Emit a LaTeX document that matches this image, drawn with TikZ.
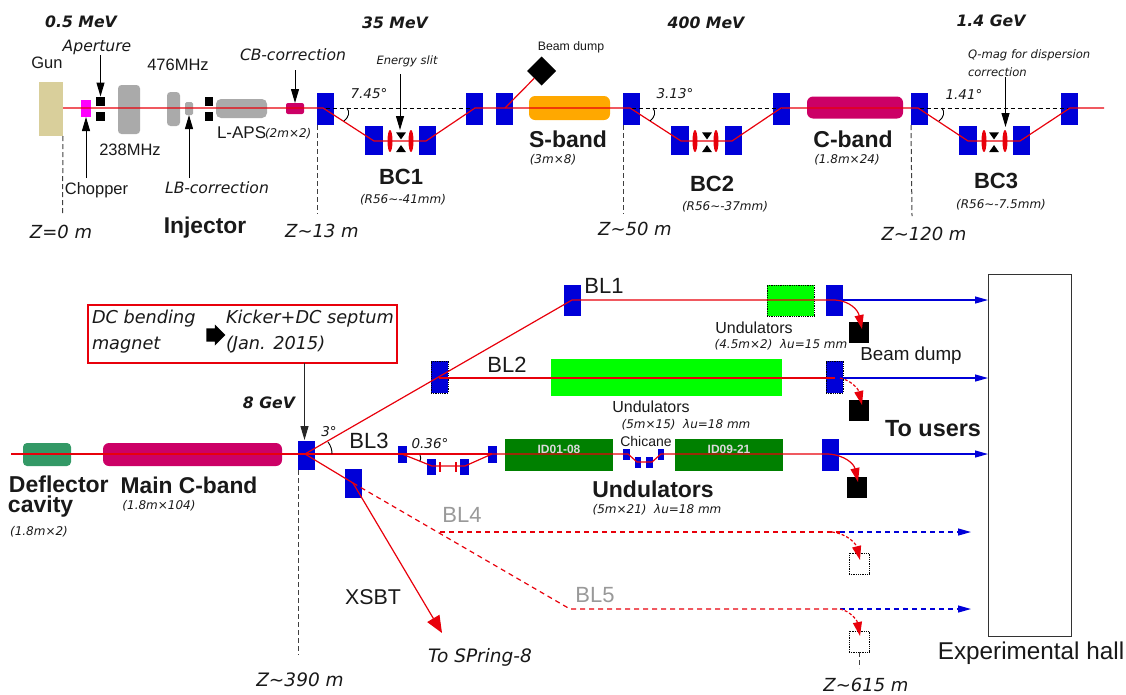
\documentclass[tikz,border=0pt]{standalone}
\usepackage{fontspec}
\setmainfont{Liberation Sans}
\newfontfamily\vd{DejaVu Sans}
\usetikzlibrary{arrows.meta,shapes.geometric,shapes.arrows,calc}
\definecolor{beam}{HTML}{E8000B}
\definecolor{mag}{HTML}{0000D8}
\definecolor{cband}{HTML}{CC0066}
\definecolor{rfgray}{HTML}{AAAAAA}
\definecolor{gunc}{HTML}{D9CF9B}
\definecolor{defl}{HTML}{339966}
\definecolor{undk}{HTML}{008000}
\definecolor{undl}{HTML}{00FF00}
\definecolor{labgray}{HTML}{999999}
\definecolor{chopc}{HTML}{FF00FF}
\definecolor{sbandc}{HTML}{FFA800}
\newcommand\fz[1]{\fontsize{#1pt}{#1pt}\selectfont}
\newcommand\tld{\textasciitilde}
\tikzset{
 x=1pt,y=-1pt,
 box/.style={inner sep=0pt,outer sep=0pt,draw=none,rectangle},
 magnet/.style={box,fill=mag},
 dotmag/.style={box,fill=mag,draw=black,densely dotted,line width=.8pt},
 blk/.style={box,fill=black},
 dotdump/.style={box,fill=white,draw=black,densely dotted,line width=.8pt},
 rf/.style={box,fill=rfgray,rounded corners=3.5pt},
 kly/.style={box,fill=cband,rounded corners=6pt},
 lens/.style={ellipse,inner sep=0pt,outer sep=0pt,fill=beam},
 tridn/.style={isosceles triangle,isosceles triangle apex angle=70,inner sep=0pt,outer sep=0pt,fill=black,shape border rotate=-90,minimum height=7pt},
 triup/.style={isosceles triangle,isosceles triangle apex angle=70,inner sep=0pt,outer sep=0pt,fill=black,shape border rotate=90,minimum height=7pt},
 rl/.style={draw=beam,line width=1.2pt},
 rld/.style={draw=beam,line width=1.2pt,dash pattern=on 5pt off 4pt},
 bl/.style={draw=mag,line width=1.2pt,-{Triangle[length=13pt,width=7pt]}},
 bld/.style={draw=mag,line width=1.2pt,dash pattern=on 5pt off 4pt,-{Triangle[length=13pt,width=7pt,sep=0pt]}},
 zline/.style={draw=black!75,line width=1pt,dash pattern=on 5pt off 3pt},
 refl/.style={draw=black,line width=.9pt,dash pattern=on 4pt off 3pt},
 ar/.style={draw=black,line width=1pt,-{Triangle[length=14pt,width=8pt]}},
 arc line/.style={draw=black,line width=.9pt},
 dumpar/.style={rl,-{Triangle[length=14pt,width=9pt]}},
 dumpard/.style={draw=beam,line width=1.2pt,dash pattern=on 3pt off 2pt,-{Triangle[length=14pt,width=9pt,sep=0pt]}},
 txt/.style={inner sep=0pt,outer sep=0pt,text=black!90},
 up/.style={txt,font=\fz{16.5}},
 upb/.style={txt,font=\fz{22}},
 bld txt/.style={txt,font=\bfseries\fz{23}},
 zl/.style={txt,font=\vd\itshape\fz{18}},
 en/.style={txt,font=\vd\bfseries\itshape\fz{15.7}},
 itl/.style={txt,font=\vd\itshape\fz{15.6}},
 its/.style={txt,font=\vd\itshape\fz{12}},
 ang/.style={txt,font=\vd\itshape\fz{13.5}},
 note txt/.style={txt,anchor=west,font=\vd\itshape\fz{17.7}},
}
\begin{document}
\begin{tikzpicture}
\useasboundingbox (0,0) rectangle (1126,694);
% --- top line shapes
\node[box,fill=gunc,minimum width=24pt,minimum height=54pt] (gun) at (51,109) {};
\node[box,fill=chopc,minimum width=10pt,minimum height=17pt] (chop) at (86,108.5) {};
\node[blk,minimum width=9pt,minimum height=9pt] (apA) at (100.5,101) {};
\node[blk,minimum width=9pt,minimum height=9pt] (apB) at (100.5,116.5) {};
\node[rf,minimum width=22pt,minimum height=49pt] (r238) at (129,109.5) {};
\node[rf,minimum width=13pt,minimum height=34pt] (r476) at (173.5,109) {};
\node[rf,minimum width=8pt,minimum height=13pt,rounded corners=1.5pt] (lb) at (189,108.5) {};
\node[blk,minimum width=8pt,minimum height=9pt] (sqA) at (209,101) {};
\node[blk,minimum width=8pt,minimum height=9pt] (sqB) at (209,116.5) {};
\node[rf,minimum width=51pt,minimum height=19pt,rounded corners=5pt] (laps) at (241.5,108.5) {};
\node[kly,minimum width=18pt,minimum height=11pt,rounded corners=2pt] (cb) at (295,108.5) {};
\node[magnet,minimum width=17pt,minimum height=32pt] (m1) at (325.5,109) {};
\node[magnet,minimum width=18pt,minimum height=29pt] (b1a) at (374,140.5) {};
\node[magnet,minimum width=17pt,minimum height=29pt] (b1b) at (427.5,140.5) {};
\node[magnet,minimum width=17pt,minimum height=32pt] (m2) at (474.5,109) {};
\node[magnet,minimum width=17pt,minimum height=32pt] (m3) at (504.5,109) {};
\node[diamond,fill=black,inner sep=0pt,outer sep=0pt,minimum width=29pt,minimum height=29pt] (dp) at (541.5,71) {};
\node[box,fill=sbandc,rounded corners=6pt,minimum width=81pt,minimum height=24pt] (sb) at (569.5,108) {};
\node[magnet,minimum width=17pt,minimum height=32pt] (m4) at (631.5,109) {};
\node[magnet,minimum width=18pt,minimum height=29pt] (b2a) at (680,140.5) {};
\node[magnet,minimum width=17pt,minimum height=29pt] (b2b) at (733.5,140.5) {};
\node[magnet,minimum width=17pt,minimum height=32pt] (m5) at (781.5,109) {};
\node[kly,minimum width=96pt,minimum height=22pt] (cband) at (855,107.5) {};
\node[magnet,minimum width=17pt,minimum height=32pt] (m6) at (919.5,109) {};
\node[magnet,minimum width=18pt,minimum height=29pt] (b3a) at (968,140.5) {};
\node[magnet,minimum width=17pt,minimum height=29pt] (b3b) at (1021.5,140.5) {};
\node[magnet,minimum width=17pt,minimum height=32pt] (m7) at (1069.5,109) {};
% reference dashes and Z marks
\coordinate (end1) at (1104,108);
\coordinate (z0) at (62.5,214);
\coordinate (z13) at (317,214);
\coordinate (z50) at (623,214);
\coordinate (z120) at (912,216);
\draw[zline] (gun.south east) -- (z0);
\draw[zline] (m1.south west) -- (z13);
\draw[zline] (m4.south west) -- (z50);
\draw[zline] (m6.south west) -- (z120);
\draw[refl] (m1.center |- end1) -- (m2.center |- end1);
\draw[refl] (m4.center |- end1) -- (m5.center |- end1);
\draw[refl] (m6.center |- end1) -- (m7.center |- end1);
% top beam
\coordinate (g) at (gun.east |- end1);
\draw[rl] (g) -- (323,108) -- (374,141) -- (426,141) -- (475,108) -- (630,108) -- (681,141) -- (732,141) -- (781,108) -- (918,108) -- (968,141) -- (1020,141) -- (1070,108) -- (end1);
\draw[rl] (505,108) -- (dp.south west);
% BC inner
\foreach \n/\x in {a/390,b/411}{\node[lens,minimum width=5pt,minimum height=22pt] (ln1\n) at (\x,141) {};}
\foreach \n/\x in {a/695,b/716}{\node[lens,minimum width=5pt,minimum height=22pt] (ln2\n) at (\x,141) {};}
\foreach \n/\x in {a/984,b/1005}{\node[lens,minimum width=5pt,minimum height=22pt] (ln3\n) at (\x,141) {};}
\foreach \i/\x in {1/401,2/707,3/994}{
 \node[tridn] (sd\i) at (\x,135) {};
 \node[triup] (su\i) at (\x,149.5) {};
}
% angle arcs
\coordinate (a1a) at (347,108); \coordinate (a1b) at (344,121);
\draw[arc line] (a1a) .. controls (350,112) and (349,117) .. (a1b);
\coordinate (a2a) at (653,108); \coordinate (a2b) at (650,121);
\draw[arc line] (a2a) .. controls (656,112) and (655,117) .. (a2b);
\coordinate (a3a) at (942,108); \coordinate (a3b) at (939,121);
\draw[arc line] (a3a) .. controls (945,112) and (944,117) .. (a3b);
% pointer arrows
\coordinate (pA) at (100.5,55); \draw[ar] (pA) -- (apA.north);
\coordinate (pC) at (86,178); \draw[ar] (pC) -- (chop.south);
\coordinate (pL) at (189,178); \draw[ar] (pL) -- (lb.south);
\coordinate (pB) at (295,70); \draw[ar] (pB) -- (cb.north);
\coordinate (pE) at (400,74); \coordinate (pE2) at (400,130); \draw[ar] (pE) -- (pE2);
\coordinate (pQ) at (1005.5,77); \coordinate (pQ2) at (1005.5,127); \draw[ar] (pQ) -- (pQ2);
% --- lower shapes
\node[box,fill=defl,rounded corners=4pt,minimum width=48pt,minimum height=23pt] (dc) at (47,454.5) {};
\node[kly,minimum width=179pt,minimum height=23pt] (mc) at (192.5,454.5) {};
\node[magnet,minimum width=17pt,minimum height=29pt] (mm) at (306.5,455.5) {};
\node[magnet,minimum width=17pt,minimum height=29pt] (mx) at (353.5,483.5) {};
\node[magnet,minimum width=17pt,minimum height=31pt] (ml1) at (572.5,300.5) {};
\node[box,fill=undl,draw=black,densely dotted,line width=.8pt,minimum width=47pt,minimum height=31pt] (u1) at (790.5,300.5) {};
\node[magnet,minimum width=17pt,minimum height=31pt] (ml1b) at (834.5,300.5) {};
\node[dotmag,minimum width=17pt,minimum height=32pt] (ml2) at (439.5,377) {};
\node[box,fill=undl,minimum width=231pt,minimum height=37pt] (u2) at (666.5,377.5) {};
\node[dotmag,minimum width=17pt,minimum height=32pt] (ml2b) at (834.5,377) {};
\node[magnet,minimum width=9pt,minimum height=17pt] (c1) at (402.5,454.5) {};
\node[magnet,minimum width=9pt,minimum height=16pt] (c2) at (431.5,467) {};
\node[magnet,minimum width=9pt,minimum height=16pt] (c3) at (464.5,467) {};
\node[magnet,minimum width=9pt,minimum height=17pt] (c4) at (492.5,454.5) {};
\node[box,fill=undk,minimum width=108pt,minimum height=32pt] (id1) at (559,455) {};
\node[box,fill=undk,minimum width=108pt,minimum height=32pt] (id2) at (729,455) {};
\node[magnet,minimum width=7pt,minimum height=11pt] (h1) at (626.5,454.5) {};
\node[magnet,minimum width=6pt,minimum height=11pt] (h2) at (638,462.5) {};
\node[magnet,minimum width=7pt,minimum height=11pt] (h3) at (649.5,462.5) {};
\node[magnet,minimum width=6pt,minimum height=11pt] (h4) at (661,454.5) {};
\node[magnet,minimum width=17pt,minimum height=32pt] (ml3b) at (830.5,455) {};
\node[blk,minimum width=20pt,minimum height=21pt] (d1) at (859,332.5) {};
\node[blk,minimum width=20pt,minimum height=21pt] (d2) at (859,410) {};
\node[blk,minimum width=20pt,minimum height=21pt] (d3) at (857,487.5) {};
\node[dotdump,minimum width=20pt,minimum height=21pt] (d4) at (859,563.5) {};
\node[dotdump,minimum width=20pt,minimum height=21pt] (d5) at (859,641.5) {};
\node[box,fill=white,draw=black!80,line width=1pt,minimum width=83pt,minimum height=362pt] (hall) at (1029.5,455) {};
\node[box,draw=beam,line width=1.2pt,fill=white,minimum width=309pt,minimum height=58pt] (note) at (242.5,334) {};
\node[single arrow,fill=black,inner xsep=0pt,inner ysep=5pt,outer sep=0pt,minimum width=21pt,minimum height=19pt,single arrow head extend=3pt,single arrow tip angle=90] (na) at (212.5,335) {};
% lower lines
\coordinate (lbeam) at (11,454);
\coordinate (hbl1) at (988,300);
\coordinate (hbl2) at (988,378);
\coordinate (hbl3) at (988,454);
\coordinate (t4) at (971,532);
\coordinate (t5) at (971,609);
\coordinate (z390) at (298,655);
\coordinate (z615) at (859,668);
\coordinate (xt) at (442,633);
\coordinate (s4) at (440,532);
\coordinate (s5) at (570,609);
\coordinate (tgt8) at (304.5,440);
\draw[zline] (mm.south west) -- (z390);
\draw[zline] (d5.south) -- (z615);
\draw[refl,dash pattern=on 2pt off 1.5pt on .8pt off 1.5pt] (c1.center) -- (c4.center);
\draw[ar,draw=black!85] (note.south -| tgt8) -- (tgt8);
% blue out-lines
\draw[bl] (ml1b.east |- hbl1) -- (hbl1);
\draw[bl] (ml2b.east |- hbl2) -- (hbl2);
\draw[bl] (ml3b.east |- hbl3) -- (hbl3);
\draw[bld] (840,532) -- (t4);
\draw[bld] (840,609) -- (t5);
% red lines
\coordinate (o) at (305,454);
\coordinate (o1) at (572,300);
\coordinate (o2) at (353,483);
\draw[rl] (lbeam) -- (402,454);
\draw[rl] (o) -- (492,454);
\draw[rl] (402,454) -- (432,466) -- (465,466) -- (492,454) -- (628,454) -- (637,462) -- (652,462) -- (661,454) -- (828,454);
\draw[rl] (o) -- (o1) -- (835,300);
\draw[rl] (439,378) -- (835,378);
\draw[rl] (o) -- (o2);
\draw[rld] (o2) -- (s5) -- (840,609);
\draw[rld] (s4) -- (840,532);
\draw[draw=beam,line width=1.2pt,-{Triangle[length=17pt,width=14pt]}] (o2) -- (xt);
\draw[dumpar] (835,300) .. controls (850,301) and (858,310) .. (862,329);
\draw[dumpar] (828,454) .. controls (845,455) and (854,464) .. (858,482);
\draw[dumpard] (840,378) .. controls (850,380) and (858,388) .. (862,405);
\draw[dumpard] (832,532) .. controls (848,534) and (856,544) .. (860,560);
\draw[dumpard] (840,609) .. controls (850,611) and (857,620) .. (860,636);
\draw[rl] (c2.center) ++(8.5,-5) -- ++(0,10);
\draw[rl] (c3.center) ++(-8.5,-5) -- ++(0,10);
% lower arcs
\coordinate (a4a) at (328,442); \coordinate (a4b) at (332,454);
\draw[arc line] (a4a) .. controls (331,446) and (332,450) .. (a4b);
\coordinate (a5a) at (420,455); \coordinate (a5b) at (420,461);
\draw[arc line] (a5a) .. controls (421,457) and (421,459) .. (a5b);
% --- text, top
\node[en] (t1) at (81,22) {0.5 MeV};
\node[en] (t2) at (395,23) {35 MeV};
\node[en] (t3) at (706,23) {400 MeV};
\node[en] (t4b) at (991,21) {1.4 GeV};
\node[itl] (ta) at (97,47) {Aperture};
\node[up] (tg) at (47,63) {Gun};
\node[up] (t476) at (178,65) {476MHz};
\node[up] (t238) at (130,150) {238MHz};
\node[up,anchor=west,font=\fz{17}] (tl) at (217,133) {L-APS};
\node[its,anchor=west] (tl2) at (265,134) {(2m×2)};
\node[up] (tch) at (96.5,190) {Chopper};
\node[itl] (tlb) at (217,188) {LB-correction};
\node[itl] (tcb) at (293,55) {CB-correction};
\node[txt,font=\bfseries\fz{22.8}] (tinj) at (205,228) {Injector};
\node[zl] (zt0) at (61,232) {Z=0 m};
\node[zl] (zt13) at (322,231) {Z\tld13 m};
\node[zl] (zt50) at (635,229) {Z\tld50 m};
\node[zl] (zt120) at (924,234) {Z\tld120 m};
\node[its,font=\vd\itshape\fz{11.5}] (tes) at (407,61) {Energy slit};
\node[ang] (t745) at (369,94) {7.45°};
\node[ang] (t313) at (675,94) {3.13°};
\node[ang] (t141) at (964,94) {1.41°};
\node[txt,font=\fz{12.3}] (tbd) at (571,47) {Beam dump};
\node[bld txt,font=\bfseries\fz{22}] (tbc1) at (401,177) {BC1};
\node[bld txt,font=\bfseries\fz{22}] (tbc2) at (712,184) {BC2};
\node[bld txt,font=\bfseries\fz{22}] (tbc3) at (996,181) {BC3};
\node[bld txt] (tsb) at (568,139) {S-band};
\node[bld txt] (tcbd) at (853,139) {C-band};
\node[its] (r1) at (403,200) {(R56\tld-41mm)};
\node[its] (r2) at (725,207) {(R56\tld-37mm)};
\node[its] (r3) at (1001,205) {(R56\tld-7.5mm)};
\node[its] (sm) at (553,160) {(3m×8)};
\node[its] (cm) at (847,160) {(1.8m×24)};
\node[its,anchor=west,font=\vd\itshape\fz{11.6}] (q1) at (968,55) {Q-mag for dispersion};
\node[its,anchor=west,font=\vd\itshape\fz{11.6}] (q2) at (968,72) {correction};
% --- text, lower
\node[note txt] (n1) at (92,319) {DC bending};
\node[note txt] (n2) at (92,345) {magnet};
\node[note txt] (n3) at (226,319) {Kicker+DC septum};
\node[note txt] (n4) at (226,345) {(Jan. 2015)};
\node[en] (t8) at (269,403) {8 GeV};
\node[txt,font=\bfseries\fz{23},anchor=west] (td1) at (9,484) {Deflector};
\node[txt,font=\bfseries\fz{23},anchor=west] (td2) at (8,507) {cavity};
\node[its] (td3) at (39,532) {(1.8m×2)};
\node[txt,font=\bfseries\fz{22.8}] (tmc) at (189,485) {Main C-band};
\node[its] (tmc2) at (159,506) {(1.8m×104)};
\node[ang] (t3d) at (329,432) {3°};
\node[ang] (t036) at (430,444) {0.36°};
\node[upb] (tbl1) at (604,286) {BL1};
\node[upb] (tbl2) at (507,365) {BL2};
\node[upb] (tbl3) at (369,441) {BL3};
\node[upb,text=labgray] (tbl4) at (462,515) {BL4};
\node[upb,text=labgray] (tbl5) at (595,595) {BL5};
\node[upb,font=\fz{21.4}] (tx) at (373,597) {XSBT};
\node[itl,font=\vd\itshape\fz{18.5}] (tsp) at (480,657) {To SPring-8};
\node[zl,font=\vd\itshape\fz{18.5}] (zt390) at (300,680) {Z\tld390 m};
\node[zl,anchor=base] (zt615) at (866,691) {Z\tld615 m};
\node[upb,font=\fz{24.3}] (the) at (1031,653) {Experimental hall};
\node[txt,font=\bfseries\fz{23.4}] (ttu) at (933,429) {To users};
\node[up,font=\fz{18.8}] (tbd2) at (911,356) {Beam dump};
\node[up,font=\fz{16}] (tu1) at (754,328) {Undulators};
\node[its] (tu1b) at (781,345) {(4.5m×2)\ \ λu=15 mm};
\node[up,font=\fz{16}] (tu2) at (651,407) {Undulators};
\node[its] (tu2b) at (686,425) {(5m×15)\ \ λu=18 mm};
\node[up,font=\fz{14}] (tchi) at (646,441) {Chicane};
\node[txt,font=\bfseries\fz{23}] (tu3) at (653,489) {Undulators};
\node[its] (tu3b) at (657,510) {(5m×21)\ \ λu=18 mm};
\node[txt,text=black!15,font=\bfseries\fz{12}] (id1t) at (559,449) {ID01-08};
\node[txt,text=black!15,font=\bfseries\fz{12}] (id2t) at (729,449) {ID09-21};
\end{tikzpicture}
\end{document}
